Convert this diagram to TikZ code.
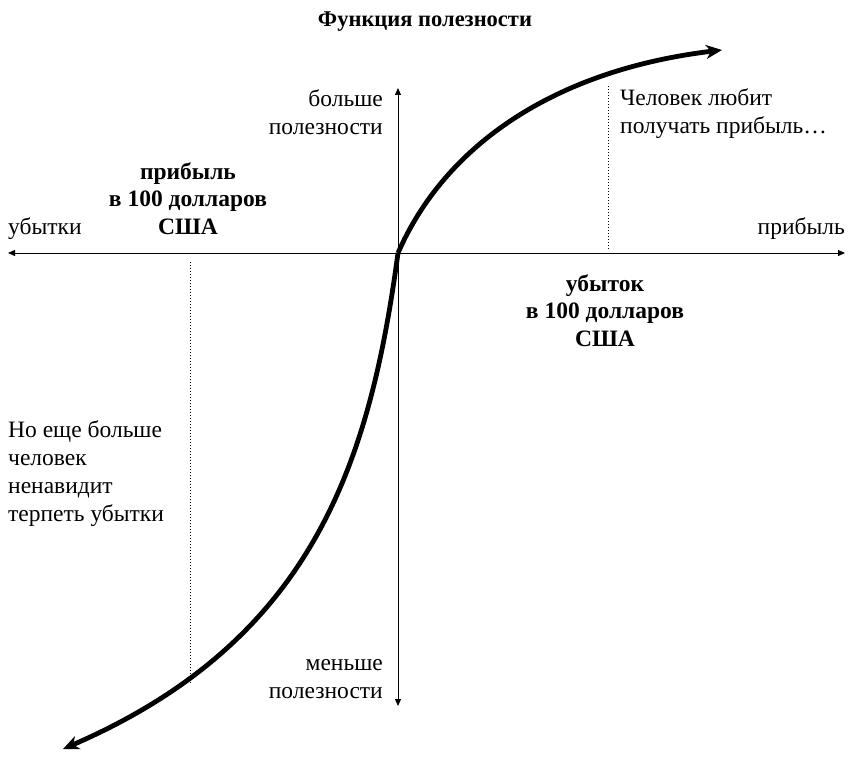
\documentclass[tikz,border=0pt]{standalone}
\usepackage{fontspec}
\setmainfont{Liberation Serif}
\usetikzlibrary{arrows.meta}
\begin{document}
\begin{tikzpicture}[x=1pt,y=-1pt,
  lbl/.style={font=\fontsize{23.5}{28}\selectfont, inner sep=0pt, align=left},
  blbl/.style={font=\fontsize{23.5}{27.5}\selectfont\bfseries, inner sep=0pt, align=center},
  axis/.style={line width=1pt, {Triangle[length=7pt,width=6pt]}-{Triangle[length=7pt,width=6pt]}},
  curve/.style={line width=4.8pt, -{Stealth[length=16pt,width=14pt,inset=5pt]}},
  guide/.style={line width=1pt, dotted}]
\useasboundingbox (0,0) rectangle (850,757);
\node[blbl, font=\fontsize{22.5}{28}\selectfont\bfseries] (title) at (425,22) {Функция полезности};
\coordinate (L) at (8,253);
\coordinate (R) at (845,253);
\coordinate (T) at (398,88);
\coordinate (B) at (398,706);
\coordinate (O) at (398,253);
\draw[axis] (L) -- (R);
\draw[axis] (B) -- (T);
\coordinate (gl1) at (190,262);
\coordinate (gl2) at (190,683);
\coordinate (gr1) at (608,86);
\coordinate (gr2) at (608,250);
\draw[guide] (gl1) -- (gl2);
\draw[guide] (gr1) -- (gr2);
\coordinate (UE) at (722,50);
\coordinate (LE) at (63,749);
\draw[curve] (O) .. controls (445,145) and (555,70) .. (UE);
\draw[curve] (O) .. controls (370,460) and (315,640) .. (LE);
\node[lbl, anchor=west] (ub) at (8,229) {убытки};
\node[lbl, anchor=east] (pr) at (845,229) {прибыль};
\node[lbl, align=right, anchor=north east] (more) at (383,89) {больше\\полезности};
\node[lbl, align=right, anchor=north east] (less) at (383,659) {меньше\\полезности};
\node[blbl, anchor=north] (p100) at (188,162) {прибыль\\в 100 долларов\\США};
\node[blbl, anchor=north] (u100) at (605,274) {убыток\\в 100 долларов\\США};
\node[lbl, anchor=north west] (like) at (620,88) {Человек любит\\получать прибыль…};
\node[lbl, anchor=north west] (hate) at (8,420) {Но еще больше\\человек\\ненавидит\\терпеть убытки};
\end{tikzpicture}
\end{document}
